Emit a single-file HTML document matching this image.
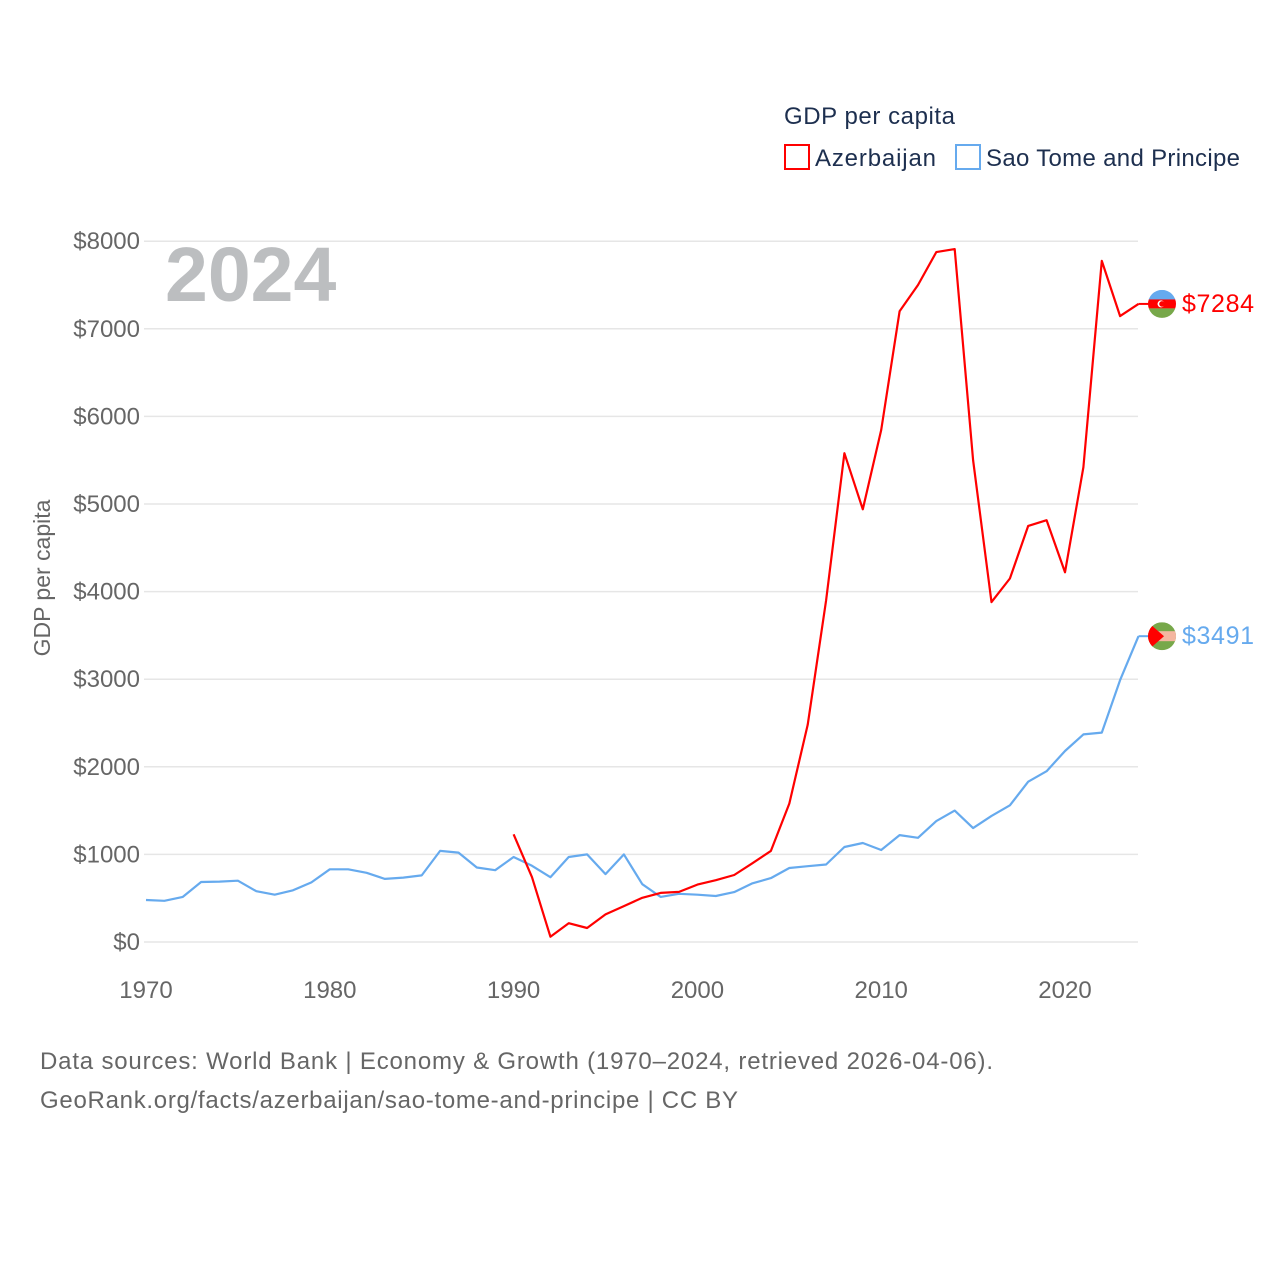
<!DOCTYPE html>
<html><head><meta charset="utf-8"><style>
html,body{margin:0;padding:0;background:#fff;}
body{width:1280px;height:1280px;overflow:hidden;font-family:"Liberation Sans",sans-serif;}
</style></head><body>
<svg id="chart" width="1280" height="1280" viewBox="0 0 1280 1280" xmlns="http://www.w3.org/2000/svg" font-family="Liberation Sans, sans-serif">
<g id="grid"></g>
<g id="yticks"></g>
<g id="xticks"></g>
<text x="165" y="301" font-size="77" font-weight="bold" fill="#bcbec0">2024</text>
<text transform="translate(50,578) rotate(-90)" text-anchor="middle" font-size="23" fill="#666">GDP per capita</text>
<g>
<text x="784" y="124" font-size="24" fill="#1d2f4f" textLength="171">GDP per capita</text>
<rect x="785" y="145" width="24" height="24" fill="none" stroke="#ff0000" stroke-width="2"/>
<text x="815" y="166" font-size="24" fill="#1d2f4f" textLength="121">Azerbaijan</text>
<rect x="956" y="145" width="24" height="24" fill="none" stroke="#66aaee" stroke-width="2"/>
<text x="986" y="166" font-size="24" fill="#1d2f4f" textLength="254">Sao Tome and Principe</text>
</g>
<g id="series"></g>
<g id="ends"></g>
<text x="40" y="1069" font-size="24" fill="#666" textLength="953">Data sources: World Bank | Economy &amp; Growth (1970–2024, retrieved 2026-04-06).</text>
<text x="40" y="1108" font-size="24" fill="#666" textLength="698">GeoRank.org/facts/azerbaijan/sao-tome-and-principe | CC BY</text>
</svg>
<script>
const stpYears = [];
for (let y = 1970; y <= 2024; y++) stpYears.push(y);
const stpValues = [480,470,515,685,690,700,580,540,590,680,830,830,790,720,735,760,1040,1020,850,820,970,870,740,970,1000,775,1000,660,515,550,540,525,570,670,730,845,865,885,1085,1130,1050,1220,1190,1380,1500,1300,1440,1560,1830,1950,2180,2370,2390,2990,3491];
const azeYears = [];
for (let y = 1990; y <= 2024; y++) azeYears.push(y);
const azeValues = [1230,740,60,215,160,315,410,505,560,572,655,705,765,900,1040,1580,2480,3900,5580,4940,5845,7200,7500,7875,7910,5500,3880,4150,4750,4815,4220,5420,7775,7145,7284];
const yTicks = [0,1000,2000,3000,4000,5000,6000,7000,8000];
const xTicks = [1970,1980,1990,2000,2010,2020];

const NS = 'http://www.w3.org/2000/svg';
const X = yr => 146 + (yr - 1970) * 18.38;
const Y = v => 942 - v * 0.0876;
function mk(tag, attrs, parent) { const e = document.createElementNS(NS, tag); for (const k in attrs) e.setAttribute(k, attrs[k]); parent.appendChild(e); return e; }
const grid = document.getElementById('grid'), yt = document.getElementById('yticks'), xt = document.getElementById('xticks');
yTicks.forEach(v => {
  const l = mk('line', {x1: 144, x2: 1138, y1: Y(v), y2: Y(v), stroke: '#e6e6e6', 'stroke-width': 1.5}, grid);
  
  
  const t = mk('text', {x: 140, y: Y(v) + 8, 'text-anchor': 'end', 'font-size': 24, fill: '#666'}, yt);
  
  
  t.textContent = '$' + v;
});
xTicks.forEach(yr => {
  const t = mk('text', {x: X(yr), y: 998, 'text-anchor': 'middle', 'font-size': 24, fill: '#666'}, xt);
  
  
  t.textContent = yr;
});
const series = document.getElementById('series');
function line(years, vals, color, name) {
  const pts = years.map((y, i) => X(y).toFixed(1) + ',' + Y(vals[i]).toFixed(1)).join(' ');
  const p = mk('polyline', {points: pts, fill: 'none', stroke: color, 'stroke-width': 2.2, 'stroke-linejoin': 'round'}, series);
  
  
}
line(stpYears, stpValues, '#66aaee', 'line-sao-tome');
line(azeYears, azeValues, '#ff0000', 'line-azerbaijan');
const ends = document.getElementById('ends');
function endLabel(val, color, name, flag) {
  const x0 = X(2024), y0 = Y(val);
  const s = mk('line', {x1: x0, x2: x0 + 10, y1: y0, y2: y0, stroke: color, 'stroke-width': 2}, ends);
  
  
  const g = mk('g', {}, ends);
  
  
  const cx = 1162, cy = y0, r = 14;
  const cid = 'clip-' + name;
  const cp = mk('clipPath', {id: cid}, g); mk('circle', {cx, cy, r}, cp);
  const inner = mk('g', {'clip-path': 'url(#' + cid + ')'}, g);
  if (flag === 'aze') {
    mk('rect', {x: cx - r, y: cy - r, width: 28, height: 10, fill: '#66aaee'}, inner);
    mk('rect', {x: cx - r, y: cy - 4.5, width: 28, height: 9, fill: '#ff0000'}, inner);
    mk('rect', {x: cx - r, y: cy + 4.5, width: 28, height: 10, fill: '#77a84a'}, inner);
    mk('circle', {cx: cx - 1, cy, r: 3.5, fill: '#fff'}, inner);
    mk('circle', {cx: cx, cy, r: 2.8, fill: '#ff0000'}, inner);
  } else {
    mk('rect', {x: cx - r, y: cy - r, width: 28, height: 28, fill: '#77a84a'}, inner);
    mk('rect', {x: cx - r, y: cy - 5, width: 28, height: 10, fill: '#f4b6a0'}, inner);
    mk('polygon', {points: (cx - r) + ',' + (cy - r) + ' ' + (cx + 2) + ',' + cy + ' ' + (cx - r) + ',' + (cy + r), fill: '#ff0000'}, inner);
  }
  const t = mk('text', {x: 1182, y: y0 + 8, 'font-size': 25, fill: color, textLength: 72}, ends);
  
  
  t.textContent = '$' + val;
}
endLabel(azeValues[azeValues.length - 1], '#ff0000', 'azerbaijan-end', 'aze');
endLabel(stpValues[stpValues.length - 1], '#66aaee', 'sao-tome-end', 'stp');
</script>
</body></html>
